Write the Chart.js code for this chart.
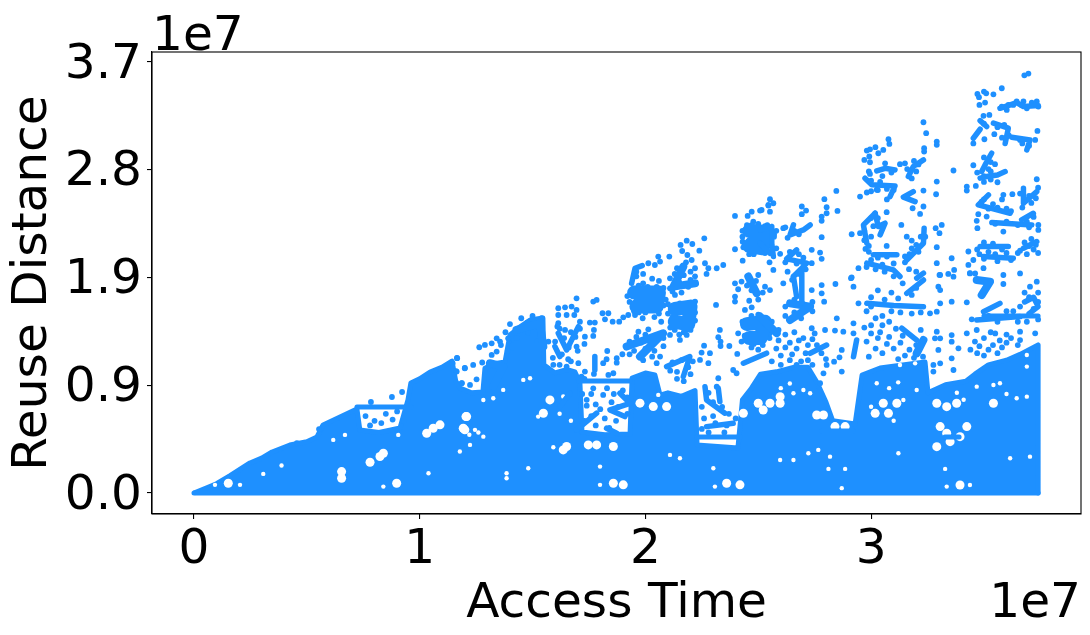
<!DOCTYPE html>
<html>
<head>
<meta charset="utf-8">
<script src="https://cdn.jsdelivr.net/npm/chart.js@4"></script>
<style>
  html, body { margin: 0; padding: 0; background: #fff; }
  canvas { display: block; }
</style>
</head>
<body>
<canvas id="chart" width="1090" height="635"></canvas>
<script>
// values, both axes in units of 1e7
const xTicks = [0, 1, 2, 3];
const xTickLabels = ["0", "1", "2", "3"];
const yTicks = [0, 0.925, 1.85, 2.775, 3.7];
const yTickLabels = ["0.0", "0.9", "1.9", "2.8", "3.7"];

// top edge of the solid part of the cloud
const denseEdge = [[0,0],[0.1,0.08],[0.16,0.15],[0.248,0.258],[0.3,0.3],[0.346,0.352],[0.425,0.412],[0.5,0.44],[0.545,0.481],[0.572,0.584],[0.647,0.652],[0.722,0.721],
  [0.735,0.541],[0.82,0.52],[0.913,0.558],[0.948,0.798],[0.961,0.944],[1.0,0.98],[1.046,1.039],[1.1,1.08],[1.143,1.133],[1.16,0.96],[1.179,0.9],[1.23,0.86],[1.28,0.867],[1.289,1.07],
  [1.33,1.11],[1.378,1.125],[1.4,1.356],[1.44,1.42],[1.489,1.485],[1.546,1.502],[1.55,1.1],[1.6,1.03],[1.65,1.06],[1.688,1.039],[1.71,0.944],[1.719,0.524],[1.82,0.5],[1.932,0.506],
  [1.941,0.987],[2.0,1.03],[2.042,1.013],[2.065,0.84],[2.1,0.86],[2.16,0.83],[2.22,0.88],[2.229,0.412],[2.32,0.4],[2.41,0.386],[2.43,0.8],[2.47,0.9],[2.51,1.02],[2.58,1.04],[2.66,1.08],
  [2.72,1.08],[2.76,0.95],[2.8,0.78],[2.83,0.62],[2.929,0.592],[2.96,1.013],[3.04,1.073],[3.14,1.1],[3.239,1.124],[3.252,0.86],[3.33,0.93],[3.42,0.96],
  [3.46,1.02],[3.52,1.1],[3.6,1.14],[3.66,1.19],[3.74,1.27],[3.74,0]];

// the flat runs and the bottom row
const flatRuns = [
  [[0,0],[3.74,0]],
  [[0.722,0.738],[0.961,0.738]],
  [[1.71,0.961],[1.932,0.961]],
  [[2.229,0.481],[2.42,0.481]],
  [[2.782,0.532],[2.92,0.532]],
  [[3.327,0.48],[3.39,0.48]],
  [[3.5,1.52],[3.74,1.52]]
];

// strings of overlapping points
const thinRuns = [
  [[3.571,3.302],[3.645,3.351],[3.675,3.317],[3.741,3.325]],
  [[3.483,3.196],[3.512,3.145]],
  [[3.542,3.174],[3.608,3.131],[3.594,3.0]],
  [[3.453,3.045],[3.483,3.122]],
  [[3.623,3.054],[3.704,3.03],[3.69,2.945]],
  [[3.534,2.916],[3.505,2.816],[3.49,2.759]],
  [[3.483,2.702],[3.512,2.716],[3.56,2.73],[3.594,2.759]],
  [[3.52,2.559],[3.475,2.473],[3.616,2.401]],
  [[3.675,2.616],[3.675,2.487],[3.734,2.587]],
  [[3.667,2.344],[3.719,2.401]],
  [[3.535,2.321],[3.712,2.301]],
  [[3.675,2.101],[3.734,2.158]],
  [[3.483,2.115],[3.608,2.115]],
  [[3.498,2.03],[3.63,2.015]],
  [[3.232,2.859],[3.187,2.802],[3.165,2.716]],
  [[3.025,2.765],[3.062,2.787],[3.106,2.773]],
  [[2.973,2.702],[3.003,2.645],[3.106,2.636],[3.084,2.544]],
  [[3.187,2.587],[3.143,2.539],[3.195,2.501]],
  [[3.018,2.401],[2.966,2.301],[2.981,2.144]],
  [[3.018,2.401],[3.032,2.287],[3.062,2.316],[3.04,2.216]],
  [[3.235,2.273],[3.232,2.144],[3.158,2.0]],
  [[3.01,2.044],[3.114,2.044]],
  [[2.981,1.973],[3.099,1.915],[3.128,1.858]],
  [[3.232,1.887],[3.202,1.844]],
  [[2.656,2.301],[2.641,2.216],[2.7,2.258],[2.73,2.301]],
  [[2.508,2.258],[2.56,2.287],[2.56,2.144],[2.567,2.03]],
  [[2.508,2.144],[2.552,2.058]],
  [[2.67,2.087],[2.626,2.01],[2.715,1.973],[2.656,1.858]],
  [[1.986,1.952],[1.954,1.929],[1.939,1.8]],
  [[1.614,1.371],[1.651,1.228],[1.703,1.428]],
  [[1.599,1.257],[1.621,1.171]],
  [[1.776,1.171],[1.776,1.056]],
  [[2.094,1.085],[2.197,1.171],[2.168,1.0]],
  [[2.434,1.114],[2.537,1.2]],
  [[1.887,0.856],[1.932,0.77],[1.843,0.713],[1.909,0.656]],
  [[1.828,0.556],[1.873,0.513]],
  [[1.666,0.856],[1.621,0.742]],
  [[1.784,0.685],[1.695,0.542]],
  [[2.264,0.913],[2.271,0.799],[2.352,0.685]],
  [[2.323,0.899],[2.33,0.785]],
  [[2.271,0.57],[2.389,0.599]],
  [[2.656,1.857],[2.67,1.685]],
  [[2.693,1.914],[2.693,1.628]],
  [[2.936,1.313],[2.922,1.17]],
  [[2.803,1.27],[2.73,1.199]],
  [[3.136,1.414],[3.202,1.313]],
  [[3.468,1.485],[3.66,1.514]],
  [[3.571,1.628],[3.498,1.556]],
  [[3.158,1.714],[3.232,1.828]],
  [[2.981,1.628],[3.1,1.61],[3.232,1.599]],
  [[3.68,1.64],[3.72,1.68],[3.74,1.6],[3.7,1.54]]
];

// the thick clumps
const clumps = [
  [[1.429,1.40],[1.533,1.457],[1.548,1.257],[1.415,1.257]],
  [[1.917,1.257],[2.079,1.371],[1.976,1.171]],
  [[2.168,1.943],[2.124,1.771],[2.22,1.8]],
  [[2.456,1.858],[2.493,1.714]],
  [[2.641,1.628],[2.73,1.6],[2.641,1.485]],
  [[2.508,1.514],[2.582,1.371]],
  [[3.232,1.313],[3.202,1.199]],
  [[3.468,1.828],[3.527,1.814],[3.49,1.699]],
  [[1.311,1.114],[1.37,1.085],[1.326,0.914]]
];

// the few really solid lumps
const lumps = [
  [[1.95,1.72],[2.06,1.72],[2.05,1.6],[1.96,1.6],[2.0,1.66]],
  [[2.13,1.58],[2.2,1.6],[2.19,1.45],[2.13,1.47]],
  [[2.46,2.25],[2.54,2.24],[2.52,2.1],[2.46,2.12],[2.5,2.2]],
  [[2.45,1.45],[2.53,1.47],[2.51,1.33],[2.46,1.33]]
];

// single points, period by period
const dotsEarly = [[0.456,0.429],[0.554,0.549],[0.784,0.781],[0.877,0.824],[0.922,0.867],[1.165,1.159],[1.2,1.073],[1.161,1.047],
  [1.187,0.944],[1.146,1.114],[1.166,1.157],[1.164,1.042],[1.2,1.071],[1.237,1.099],[1.277,1.12],[1.223,0.928],[1.186,0.942],
  [1.252,0.976],[1.264,1.251],[1.289,1.271],[1.341,1.328],[1.319,1.285],[1.356,1.3],[1.341,1.214],[1.319,1.185],[1.392,1.328],
  [1.477,1.463],[1.57,1.3],[1.592,1.1],[1.651,1.085],[1.703,1.114],[1.614,1.457],[1.644,1.4],[1.71,1.471],[1.754,1.463],
  [1.776,1.463],[1.695,1.257],[1.732,1.342],[1.769,1.348],[1.772,1.4],[1.658,1.148],[1.732,1.042],[1.717,0.999],[1.772,1.022],
  [0.76,0.66],[0.8,0.62],[0.85,0.68],[0.88,0.63],[0.9,0.7],[0.78,0.58],[0.93,0.62],[0.83,0.6],
  [1.4,1.45],[1.45,1.5],[1.5,1.52],[1.54,1.5],[1.43,1.33],[1.48,1.38],[1.52,1.3],[1.38,1.38],[1.36,1.27],[1.39,1.22],
  [1.62,1.41],[1.64,1.33],[1.67,1.38],[1.69,1.34],[1.6,1.3],[1.66,1.25],[1.7,1.22],[1.63,1.19],[1.73,1.28],[1.61,1.43],[1.71,1.41],
  [1.59,1.16],[1.62,1.1],[1.67,1.13],[1.73,0.98],[1.76,0.85],[1.74,0.75],[1.78,0.76],[1.8,0.72],[1.76,0.66],[1.73,0.62],[1.78,0.58],[1.82,0.64],
  [1.85,0.78],[1.88,0.74],[1.92,0.82],[1.9,0.88],[1.86,0.85],[1.87,0.62],[1.92,0.68],[1.84,0.56],[1.72,0.85],[1.83,0.9]];
const dotsMiddle = [[1.614,1.586],[1.644,1.594],[1.651,1.528],[1.614,1.528],[1.673,1.6],[1.695,1.571],[1.685,1.528],[1.695,1.671],
  [1.769,1.643],[1.784,1.657],[1.81,1.543],[1.836,1.543],[1.821,1.491],[1.855,1.471],[1.884,1.471],[1.902,1.508],[1.924,1.528],
  [1.954,1.528],[1.988,1.5],[1.946,1.6],[2.013,1.972],[2.042,1.957],[2.057,2.029],[2.065,1.986],[2.106,2.029],[2.183,2.166],
  [2.156,2.129],[2.208,2.137],[2.163,2.077],[2.186,2.043],[2.205,2.0],[2.239,2.08],[2.261,2.186],[1.831,1.219],[1.828,1.148],
  [1.813,1.114],[1.873,1.157],[1.873,1.119],[1.898,1.191],[1.858,1.028],[1.836,1.014],[1.769,0.899],[1.813,0.842],[1.74,0.8],
  [1.969,1.385],[2.013,1.405],[2.065,1.171],[2.05,1.114],[2.153,1.628],[2.197,1.628],[2.22,1.643],[2.109,1.357],[2.153,1.314],
  [2.183,1.357],[2.109,1.843],[2.109,1.757],[2.131,1.7],[2.22,1.929],[2.264,1.972],[2.279,1.929],[2.316,1.929],[2.345,1.957],
  [2.271,1.88],[2.249,1.205],[2.286,1.2],[2.242,1.142],[2.279,1.114],[2.26,1.265],[2.33,1.4],[2.323,1.337],[2.333,1.3],[2.333,1.262],
  [2.372,1.262],[2.407,1.194],[2.389,1.056],[2.404,1.028],[2.323,0.985],[2.316,0.913],
  [1.96,1.86],[1.99,1.8],[2.03,1.84],[2.06,1.82],[2.08,1.76],[1.97,1.78],[2.01,1.77],[2.05,1.77],[1.94,1.7],[1.93,1.64],[1.95,1.56],
  [2.08,1.61],[2.06,1.54],[2.0,1.55],[1.97,1.55],[2.04,1.51],[2.07,1.47],[2.09,1.66],[1.92,1.69],[1.96,1.9],[1.99,1.88],
  [1.93,1.3],[1.96,1.34],[2.0,1.36],[2.04,1.35],[2.08,1.33],[2.03,1.29],[1.98,1.29],[1.95,1.22],[2.0,1.24],[2.04,1.22],[1.93,1.19],[1.99,1.14],[2.03,1.17],[2.08,1.26],
  [2.12,1.51],[2.16,1.56],[2.22,1.48],[2.18,1.4],[2.13,1.4],[2.17,1.38],[2.2,1.4],[2.1,1.54],[2.15,1.36],[2.22,1.55],[2.1,1.62],[2.11,1.42],
  [2.14,1.93],[2.18,1.98],[2.2,1.9],[2.17,1.87],[2.13,1.88],[2.15,1.81],[2.19,1.77],[2.22,1.86],[2.12,1.73],[2.16,1.72],[2.2,1.83],
  [2.12,1.12],[2.16,1.14],[2.19,1.08],[2.14,1.04],[2.11,1.05],[2.2,1.02],[2.17,0.96],[2.14,0.98],[2.21,1.13],
  [2.28,0.86],[2.3,0.78],[2.25,0.74],[2.3,0.66],[2.26,0.64],[2.34,0.74],[2.37,0.68],[2.4,0.64],[2.36,0.58],[2.31,0.6],[2.28,0.52],[2.35,0.52],[2.25,0.55]];
const dotsLate = [[2.397,2.378],[2.453,2.378],[2.471,2.415],[2.478,2.329],[2.515,2.429],[2.545,2.472],[2.431,2.157],[2.434,2.109],
  [2.397,2.092],[2.431,1.994],[2.397,1.8],[2.426,1.815],[2.411,1.749],[2.397,1.686],[2.397,1.643],[2.441,1.571],[2.471,1.594],
  [2.313,1.614],[2.5,1.871],[2.53,1.771],[2.411,1.371],[2.426,1.3],[2.552,2.522],[2.567,2.487],[2.545,2.467],[2.508,2.424],
  [2.552,2.415],[2.693,2.459],[2.712,2.424],[2.693,2.393],[2.793,2.522],[2.846,2.593],[2.803,2.453],[2.781,2.373],[2.781,2.336],
  [2.803,2.401],[2.851,2.421],[2.781,2.196],[2.774,2.064],[2.781,2.01],[2.611,2.273],[2.597,2.053],[2.737,2.087],[2.737,1.973],
  [2.567,1.915],[2.552,1.742],[2.611,1.8],[2.781,1.785],[2.781,1.714],[2.792,1.642],[2.737,1.742],[2.842,1.794],[2.914,1.851],
  [2.922,1.771],[2.944,1.628],[2.848,1.499],[2.737,1.414],[2.796,1.399],[2.84,1.394],[2.877,1.385],[2.922,1.456],[2.922,1.371],
  [2.87,1.228],[2.86,1.165],[2.836,1.127],[2.803,1.099],[2.789,1.027],[2.87,1.042],[2.774,0.942],
  [2.45,2.3],[2.47,2.3],[2.5,2.31],[2.53,2.29],[2.57,2.22],[2.43,2.2],[2.44,2.14],[2.53,2.06],[2.48,2.05],[2.46,2.05],[2.43,2.25],
  [2.46,1.8],[2.49,1.82],[2.52,1.72],[2.47,1.74],[2.45,1.78],[2.5,1.66],[2.46,1.65],
  [2.43,1.47],[2.47,1.52],[2.5,1.53],[2.55,1.47],[2.54,1.38],[2.44,1.35],[2.48,1.28],[2.52,1.27],[2.47,1.25],[2.55,1.33],[2.5,1.23],
  [2.54,2.3],[2.58,2.25],[2.58,2.1],[2.55,1.98],[2.62,2.28],[2.66,2.25],[2.68,2.22],[2.63,2.19],
  [2.64,2.07],[2.68,2.05],[2.7,2.02],[2.62,1.98],[2.67,1.97],[2.71,1.92],[2.63,1.9],[2.68,1.88],[2.65,1.83],
  [2.62,1.6],[2.66,1.66],[2.7,1.62],[2.74,1.56],[2.66,1.55],[2.62,1.52],[2.69,1.5],[2.74,1.64],
  [2.56,1.47],[2.59,1.4],[2.55,1.37],
  [2.62,1.36],[2.66,1.38],[2.7,1.33],[2.74,1.32],[2.62,1.25],[2.67,1.24],[2.71,1.2],[2.6,1.18],[2.64,1.14],[2.69,1.13],[2.76,1.27],[2.78,1.2],[2.8,1.15],
  [2.59,1.31],[2.64,1.29],[2.68,1.31],[2.72,1.27],[2.58,1.24],[2.65,1.19],[2.72,1.14],[2.6,1.1],[2.67,1.1],[2.75,1.37],[2.56,1.13],[2.74,1.1]];
const dotsLast = [[3.697,3.6],[3.679,3.585],[3.579,3.474],[3.471,3.425],[3.5,3.445],[3.542,3.422],[3.478,3.397],[3.51,3.43],[3.48,3.331],
  [3.505,3.351],[3.498,3.237],[3.524,3.245],[3.737,3.108],[3.453,3.0],[3.502,3.036],[3.546,3.08],[3.727,3.03],[3.453,2.813],[3.549,2.822],
  [3.56,2.667],[3.464,2.636],[3.424,2.63],[3.424,2.596],[3.734,2.693],[3.365,2.768],[3.586,2.559],[3.626,2.565],[3.512,2.373],[3.475,2.393],
  [3.468,2.336],[3.471,2.273],[3.741,2.301],[3.741,2.258],[3.586,2.244],[3.431,2.073],[3.431,1.958],[3.453,2.0],[3.498,1.93],[3.438,1.887],
  [3.077,3.036],[3.081,2.996],[3.019,2.968],[3.054,2.945],[2.981,2.939],[2.995,2.95],[3.032,2.916],[2.992,2.888],[2.97,2.859],[2.995,2.839],
  [3.232,3.182],[3.244,3.088],[3.291,3.016],[3.291,2.988],[3.235,2.959],[3.235,2.93],[3.128,2.822],[3.15,2.83],[3.062,2.83],[2.995,2.739],
  [2.951,2.544],[2.981,2.579],[3.025,2.603],[3.232,2.596],[3.288,2.564],[3.291,2.673],[3.232,2.459],[3.184,2.444],[3.217,2.395],[3.069,2.41],
  [2.951,2.23],[2.914,2.221],[3.134,2.301],[2.975,2.095],[3.158,2.2],[3.18,2.167],[3.286,2.273],[3.313,2.301],[3.303,2.23],[3.291,2.11],
  [3.291,1.973],[3.357,2.015],[3.069,2.121],[2.944,1.93],[2.911,1.844],[3.168,1.921],[3.303,1.872],[3.368,1.915],
  [3.283,1.328],[3.306,1.328],[3.357,1.356],[3.357,1.299],[3.298,1.228],[3.306,1.113],[3.276,1.099],[3.357,1.156],[3.365,1.056],[3.387,1.242],
  [3.276,1.042],[3.291,1.385],[3.306,1.742],[3.298,1.771],[3.306,1.628],[3.357,1.642],[3.424,1.637],[3.261,1.542],[3.291,1.556],[3.306,1.871],
  [3.342,1.88],[3.365,1.857],[3.438,1.885],[3.461,1.885],[3.66,1.885],[3.586,1.871],[3.586,1.794],[3.704,1.771],[3.734,1.814],[3.446,1.491],
  [3.424,1.371],[3.468,1.399],[3.66,1.385],[3.66,1.313],[3.727,1.371],
  [3.579,3.317],[3.601,3.288],[3.608,3.331],[3.63,3.331],[3.645,3.36],[3.675,3.36],[3.667,3.331],[3.69,3.302],[3.712,3.351],[3.734,3.36],[3.741,3.317],
  [3.5,3.17],[3.56,3.14],[3.59,3.16],[3.61,3.07],[3.58,3.05],[3.66,3.03],[3.7,2.98],[3.67,3.0],
  [3.5,2.88],[3.53,2.84],[3.52,2.78],[3.5,2.72],[3.53,2.76],[3.47,2.75],[3.5,2.67],[3.53,2.69],
  [3.5,2.52],[3.54,2.48],[3.58,2.52],[3.56,2.45],[3.6,2.44],[3.52,2.44],[3.49,2.5],[3.62,2.42],
  [3.66,2.57],[3.7,2.55],[3.71,2.49],[3.67,2.45],[3.73,2.53],[3.74,2.62],
  [3.55,2.31],[3.6,2.33],[3.65,2.3],[3.69,2.33],[3.72,2.37],[3.7,2.28],
  [3.68,2.15],[3.7,2.12],[3.72,2.09],[3.66,2.08],[3.73,2.13],[3.69,2.05],[3.74,2.06],[3.71,2.18],
  [3.5,2.15],[3.54,2.14],[3.58,2.09],[3.52,2.07],[3.55,2.05],[3.6,2.06],[3.5,2.01],[3.56,1.99],[3.62,2.0],[3.47,2.09],[3.65,2.06],[3.48,2.05],
  [3.0,2.68],[3.04,2.67],[3.07,2.61],[3.03,2.6],[3.0,2.59],[3.1,2.6],[3.05,2.72],[3.09,2.75],[2.99,2.76],[3.07,2.52],
  [3.19,2.85],[3.2,2.76],[3.16,2.78],[3.21,2.82],[3.18,2.7],
  [3.0,2.36],[2.97,2.25],[3.0,2.2],[2.97,2.17],[3.01,2.29],[3.05,2.28],[3.03,2.36],[2.99,2.12],
  [3.22,2.2],[3.2,2.13],[3.21,2.07],[3.17,2.05],[3.15,2.03],[3.24,2.2],[3.18,2.1],
  [2.99,2.07],[3.03,2.02],[3.07,2.03],[3.0,2.0],[3.05,1.96],[3.1,1.97],[3.02,1.92],[2.98,1.94],[3.06,1.9],
  [2.57,2.2],[3.15,1.98],[3.2,1.9],[3.1,1.86],[3.14,1.8],[3.2,1.76],
  [3.0,1.68],[3.06,1.66],[3.12,1.67],[3.18,1.7],[3.03,1.74],[3.09,1.72],[2.98,1.56],[3.05,1.52],[3.0,1.44],[3.05,1.44],[3.08,1.34],[3.03,1.33],[2.98,1.3],
  [3.14,1.35],[3.2,1.27],[3.17,1.23],[3.22,1.4],[3.1,1.24],[3.05,1.2],[3.12,1.15],
  [2.99,1.17],[3.02,1.24],[3.0,1.37],[2.97,1.42],[3.02,1.5],[3.08,1.47],[3.11,1.41],[3.07,1.28],[3.15,1.18],[3.19,1.16],[3.13,1.29],[3.23,1.17],[3.04,1.38],[3.13,1.55],[3.18,1.54],[3.22,1.55],[3.09,1.56],[3.0,1.6],
  [3.52,1.52],[3.6,1.56],[3.56,1.47],[3.65,1.47],[3.63,1.56],
  [3.46,1.3],[3.5,1.33],[3.55,1.37],[3.48,1.26],[3.54,1.27],[3.58,1.25],[3.62,1.33],[3.44,1.23],[3.5,1.18],[3.56,1.2],
  [3.53,1.38],[3.6,1.36],[3.47,1.2],[3.52,1.23],[3.6,1.29],[3.57,1.31],[3.65,1.27],
  [3.7,1.68],[3.74,1.72],[3.68,1.72],[3.72,1.58],[3.69,1.47],[3.74,1.49],[3.66,1.6],[3.74,1.64]];

// places where the solid part has holes in it, painted back in the page colour
const holesSmall = [[0.307,0.164],[0.388,0.236],[0.617,0.456],[0.669,0.499],[1.039,0.17],[0.839,0.055],[0.905,0.499],[0.204,0.07],[0.093,0.07],
  [1.245,0.542],[1.282,0.484],[1.223,0.413],[1.178,0.356],[1.385,0.17],[1.385,0.127],[1.481,0.213],[1.592,0.393],[1.799,0.227],[1.799,0.07],
  [2.153,0.299],[2.308,0.055],[2.301,0.213],[2.766,0.37],[2.722,0.341],[2.656,0.284],[2.597,0.284],[2.818,0.312],[2.811,0.207],[2.885,0.207],
  [2.87,0.041],[3.121,0.341],[3.328,0.207],[3.335,0.055],[3.438,0.069],[3.616,0.298],[3.704,0.312],[2.7,0.884],[2.73,0.856],[2.656,0.856],
  [2.523,1.142],[3.202,0.884],[3.025,0.942],[3.143,0.799],[3.645,0.813],[3.69,0.827],[3.571,0.942],[3.542,0.927],[3.468,0.913],[3.69,1.085],[3.69,1.185],
  [1.282,0.799],[1.326,0.813],[1.37,0.885],[1.459,0.971],[1.489,0.985],[1.525,0.656],[1.636,0.828],[2.057,0.842],[2.109,0.327],[3.195,1.113],[3.128,1.099],[3.032,1.17],
  [1.22,0.5],[1.26,0.52],[2.6,0.9],[2.64,0.94],[3.08,0.9],[3.12,0.95],[3.38,0.86],[3.41,0.8],[3.6,0.85],[3.1,0.62],[3.0,0.74],[1.62,0.68],[1.67,0.62]];
const holesLarge = [[0.152,0.084],[0.654,0.184],[0.654,0.127],[0.78,0.264],[0.824,0.313],[0.839,0.341],[0.898,0.084],[1.06,0.556],[1.09,0.585],[1.031,0.513],
  [1.208,0.656],[1.193,0.556],[1.205,0.656],[1.2,0.542],[1.651,0.399],[1.636,0.37],[1.747,0.413],[1.784,0.413],[1.858,0.399],[1.858,0.084],[1.902,0.07],
  [1.577,0.799],[1.548,0.685],[1.976,0.771],[2.035,0.742],[2.094,0.742],[2.36,0.084],[2.419,0.07],[2.434,0.685],[2.522,0.713],[2.5,0.77],
  [2.552,0.77],[2.597,0.827],[2.597,0.77],[2.759,0.67],[2.789,0.67],[2.84,0.57],[2.885,0.57],[3.018,0.684],[3.077,0.684],[3.114,0.77],[3.054,0.77],
  [3.291,0.77],[3.335,0.741],[3.379,0.77],[3.306,0.57],[3.335,0.513],[3.424,0.57],[3.394,0.484],[3.291,0.398],[3.35,0.441],[3.394,0.069],[3.542,0.77]];

const BLUE = "#1E90FF";
const toXY = p => ({ x: p[0], y: p[1] });

function stroke(run, width) {
  return { data: run.map(toXY), showLine: true, borderColor: BLUE, borderWidth: width, pointRadius: 0,
           borderCapStyle: "round", borderJoinStyle: "round", clip: false, order: 1 };
}

function holes(list, radius) {
  return { data: list.map(toXY), pointRadius: radius, pointBackgroundColor: "#fff", pointBorderWidth: 0, order: 2 };
}

// higher order is painted first
const datasets = [
  { data: denseEdge.map(toXY), showLine: true, fill: "origin", backgroundColor: BLUE, borderColor: BLUE,
    borderWidth: 5, borderJoinStyle: "round", pointRadius: 0, order: 3 },
  holes(holesSmall, 2.2),
  holes(holesLarge, 4.5),
  ...flatRuns.map(r => stroke(r, 5)),
  ...thinRuns.map(r => stroke(r, 5.5)),
  ...clumps.map(r => stroke(r, 8)),
  ...lumps.map(r => stroke(r, 14)),
  { data: [...dotsEarly, ...dotsMiddle, ...dotsLate, ...dotsLast].map(toXY), pointRadius: 2.9,
    pointBackgroundColor: BLUE, pointBorderWidth: 0, order: 1 }
];

// box round the plot and the two 1e7 offset labels
const frame = {
  id: "frame",
  afterDraw(chart) {
    const { ctx, chartArea: a } = chart;
    ctx.save();
    ctx.strokeStyle = "#000";
    ctx.lineWidth = 1.1;
    ctx.strokeRect(a.left, a.top, a.right - a.left, a.bottom - a.top);
    ctx.fillStyle = "#000";
    ctx.font = "48.6px 'DejaVu Sans'";
    ctx.textAlign = "left";
    ctx.fillText("1e7", a.left, 50);
    ctx.textAlign = "right";
    ctx.fillText("1e7", a.right, 617);
    ctx.restore();
  }
};

const tickFont = { family: "'DejaVu Sans'", size: 48.6 };

new Chart(document.getElementById("chart"), {
  type: "scatter",
  data: { datasets },
  plugins: [frame],
  options: {
    responsive: false,
    animation: false,
    layout: { padding: { top: 52, right: 9, left: 0, bottom: 0 } },
    plugins: { legend: { display: false }, tooltip: { enabled: false } },
    scales: {
      x: {
        min: -0.186, max: 3.93,
        afterBuildTicks: s => { s.ticks = xTicks.map(v => ({ value: v })); },
        afterFit: s => { s.height = 121; },
        grid: { display: true, drawOnChartArea: false, drawTicks: true, tickLength: 5, color: "#000", lineWidth: 1.1 },
        border: { display: true, color: "#000", width: 1.1 },
        ticks: { color: "#000", font: tickFont, padding: 2, maxRotation: 0, autoSkip: false,
                 callback: (v, i) => xTickLabels[i] },
        title: { display: true, text: "Access Time", color: "#000", font: tickFont, padding: { top: 0, bottom: 1 } }
      },
      y: {
        min: -0.18, max: 3.785,
        afterBuildTicks: s => { s.ticks = yTicks.map(v => ({ value: v })); },
        afterFit: s => { s.width = 152; },
        grid: { display: true, drawOnChartArea: false, drawTicks: true, tickLength: 5, color: "#000", lineWidth: 1.1 },
        border: { display: true, color: "#000", width: 1.1 },
        // the empty first line with a small line height moves the label down 3px
        ticks: { color: "#000", font: { ...tickFont, lineHeight: "6px" }, padding: 5, maxRotation: 0, autoSkip: false,
                 callback: (v, i) => ["", yTickLabels[i]] },
        title: { display: true, text: "Reuse Distance", color: "#000", font: tickFont, padding: { top: 4, bottom: 0 } }
      }
    }
  }
});
</script>
</body>
</html>
